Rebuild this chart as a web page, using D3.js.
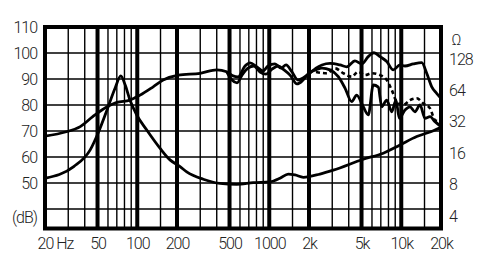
<!DOCTYPE html>
<html>
<head>
<meta charset="utf-8">
<script src="https://cdn.jsdelivr.net/npm/d3@7"></script>
<style>
	body { margin: 0; background: #fff; }
	svg text { font-family: Roboto, "Liberation Sans", sans-serif; font-weight: 300; font-size: 16px; fill: #222; letter-spacing: -1px; }
</style>
</head>
<body>
<svg id="chart" width="486" height="272"></svg>
<script>
/* global d3 */

/////////////////////////////////////////////////////////////////////////
// data

var freqTicks = [20, 50, 100, 200, 500, 1000, 2000, 5000, 10000, 20000]
var freqLabels = ['20 Hz', '50', '100', '200', '500', '1000', '2k', '5k', '10k', '20k']
var thinFreqs = [30, 40, 60, 70, 80, 90, 150, 300, 400, 600, 700, 800, 900, 1500, 3000, 4000, 6000, 7000, 8000, 9000, 15000]
var dbTicks = [110, 100, 90, 80, 70, 60, 50]
var dbGrid = [100, 90, 80, 70, 60, 50, 40]
var ohmTicks = [4, 8, 16, 32, 64, 128]

// on-axis response (dB)
var onFreq = [20, 29, 37, 46, 59, 70, 88, 105, 132, 157, 205, 300, 400, 476, 531, 580, 655, 715, 807, 897, 978, 1105, 1228, 1340, 1486, 1651, 1802, 2036, 2260, 2508, 2885, 3436, 3864, 4460, 5012, 5625, 6213, 6903, 7760, 8704, 9780, 10670, 12335, 14290, 15590, 17020, 18540, 20000]
var onDb = [68.0, 69.7, 71.7, 75.5, 79.3, 81.0, 81.9, 83.8, 87.0, 89.6, 91.5, 92.2, 93.5, 92.8, 91.2, 90.8, 95.0, 96.2, 94.6, 93.1, 95.0, 95.8, 94.2, 95.4, 92.7, 89.6, 90.4, 92.3, 94.2, 95.4, 96.0, 95.4, 94.7, 97.0, 95.8, 98.6, 100.1, 98.6, 96.7, 93.5, 95.4, 95.0, 95.8, 96.3, 92.2, 87.0, 84.5, 82.6]

// lower solid response
var offFreq = [476, 522, 570, 621, 690, 766, 851, 944, 1050, 1165, 1294, 1436, 1622, 1802, 2000, 2260, 2508, 2885, 3335, 3748, 4210, 4594, 5155, 5625, 6140, 6700, 7110, 7760, 8468, 9120, 9660, 10670, 11640, 12700, 13870, 15130, 16510, 18020, 20000]
var offDb = [92.8, 89.6, 88.5, 91.5, 94.2, 95.0, 92.7, 91.9, 93.8, 95.0, 93.5, 91.5, 88.1, 89.6, 92.3, 93.5, 94.2, 93.5, 90.9, 86.5, 81.3, 83.8, 79.3, 76.2, 87.7, 86.9, 79.3, 81.9, 77.4, 81.9, 74.9, 78.1, 79.3, 77.4, 80.0, 74.9, 75.5, 73.6, 71.7]

// dashed response
var dashFreq = [2260, 2723, 3148, 3638, 4210, 4725, 5310, 5970, 6903, 7760, 8468, 9233, 10360, 11640, 13100, 14690, 16510, 18020, 20000]
var dashDb = [92.7, 92.2, 94.1, 92.2, 90.9, 92.8, 91.5, 92.2, 91.5, 89.6, 85.8, 81.3, 80.0, 81.9, 82.6, 80.6, 78.7, 74.2, 73.6]

// impedance (ohm)
var impFreq = [20, 33, 44, 51, 59, 68, 75, 81, 88, 99, 118, 149, 177, 211, 237, 316, 424, 566, 757, 1013, 1206, 1394, 1567, 1811, 2421, 3055, 5154, 7312, 9780, 13100, 17500, 20000]
var impOhm = [9.2, 11.9, 17.2, 25.7, 41.6, 67.5, 88, 72, 51.8, 37.3, 26.7, 17.8, 13.8, 11.9, 10.6, 9.0, 8.2, 8.05, 8.34, 8.5, 9.2, 10.1, 9.9, 9.4, 10.1, 11.0, 14.0, 16.0, 19.2, 23.1, 26.3, 28.3]

/////////////////////////////////////////////////////////////////////////
// scales

var svg = d3.select('#chart')
var pLeft = 45, pRight = 441, pTop = 27, pBottom = 228.5

var x = d3.scaleLog().domain([20, 20000]).range([pLeft, pRight])
var y = d3.scaleLinear().domain([110, 32.5]).range([pTop, pBottom])
var z = d3.scaleLog().base(2).domain([4, 128]).range([216, 59])

svg.append('clipPath').attr('id', 'plot')
	.append('rect').attr('x', pLeft).attr('y', pTop).attr('width', pRight - pLeft).attr('height', pBottom - pTop)

/////////////////////////////////////////////////////////////////////////
// grid

var grid = svg.append('g')

grid.selectAll('.hgrid').data(dbGrid).enter().append('line')
	.attr('x1', pLeft).attr('x2', pRight)
	.attr('y1', d => y(d)).attr('y2', d => y(d))
	.attr('stroke', '#000').attr('stroke-width', 1.4)

grid.selectAll('.vthin').data(thinFreqs).enter().append('line')
	.attr('x1', d => x(d)).attr('x2', d => x(d))
	.attr('y1', pTop).attr('y2', pBottom)
	.attr('stroke', '#000').attr('stroke-width', 1.4)

grid.selectAll('.vthick').data(freqTicks.slice(1, -1)).enter().append('line')
	.attr('x1', d => x(d)).attr('x2', d => x(d))
	.attr('y1', pTop).attr('y2', pBottom)
	.attr('stroke', '#000').attr('stroke-width', 4)

/////////////////////////////////////////////////////////////////////////
// curves

var curves = svg.append('g').attr('clip-path', 'url(#plot)')

function dbLine(fs, vs) {
	return d3.line().x((d, i) => x(fs[i])).y((d, i) => y(vs[i])).curve(d3.curveMonotoneX)(fs)
}

curves.append('path').attr('d', dbLine(onFreq, onDb))
	.attr('fill', 'none').attr('stroke', '#000').attr('stroke-width', 2.8).attr('stroke-linejoin', 'round')

curves.append('path').attr('d', dbLine(offFreq, offDb))
	.attr('fill', 'none').attr('stroke', '#000').attr('stroke-width', 2.8).attr('stroke-linejoin', 'round')

curves.append('path').attr('d', dbLine(dashFreq, dashDb))
	.attr('fill', 'none').attr('stroke', '#000').attr('stroke-width', 2.6).attr('stroke-dasharray', '4,3')

var impLine = d3.line().x((d, i) => x(impFreq[i])).y((d, i) => z(impOhm[i])).curve(d3.curveMonotoneX)
curves.append('path').attr('d', impLine(impFreq))
	.attr('fill', 'none').attr('stroke', '#000').attr('stroke-width', 2.8)

// frame
svg.append('rect')
	.attr('x', pLeft).attr('y', pTop).attr('width', pRight - pLeft).attr('height', pBottom - pTop)
	.attr('fill', 'none').attr('stroke', '#000').attr('stroke-width', 4)

/////////////////////////////////////////////////////////////////////////
// axes

var xAxis = svg.append('g')
	.attr('transform', 'translate(0,' + pBottom + ')')
	.call(d3.axisBottom(x).tickValues(freqTicks).tickSize(0).tickPadding(9)
		.tickFormat((d, i) => freqLabels[i]))
xAxis.select('.domain').remove()
xAxis.selectAll('text').filter((d, i) => i === 0).attr('text-anchor', 'start').attr('x', -8)

var yAxis = svg.append('g')
	.attr('transform', 'translate(' + pLeft + ',0)')
	.call(d3.axisLeft(y).tickValues(dbTicks).tickSize(0).tickPadding(8))
yAxis.select('.domain').remove()

svg.append('text').attr('x', pLeft - 8).attr('y', 218).attr('dy', '0.32em')
	.attr('text-anchor', 'end').text('(dB)')

var zAxis = svg.append('g')
	.attr('transform', 'translate(' + pRight + ',0)')
	.call(d3.axisRight(z).tickValues(ohmTicks).tickSize(0).tickPadding(8).tickFormat(d3.format('d')))
zAxis.select('.domain').remove()

svg.append('text').attr('x', 456).attr('y', 40).attr('dy', '0.32em')
	.attr('text-anchor', 'middle').style('font-size', '15px').text('Ω')

svg.selectAll('.tick text').attr('fill', '#222')
</script>
</body>
</html>
